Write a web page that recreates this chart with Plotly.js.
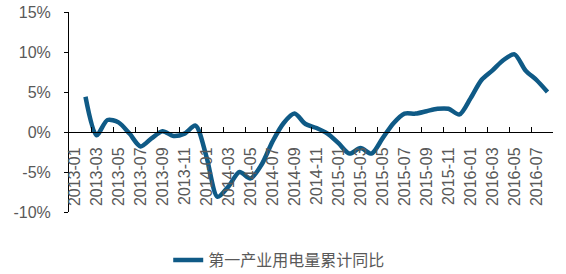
<!DOCTYPE html>
<html>
<head>
<meta charset="utf-8">
<script src="https://cdn.plot.ly/plotly-3.0.1.min.js"></script>
<style>html,body{margin:0;padding:0;background:#fff}#chart{width:566px;height:274px}</style>
</head>
<body>
<div id="chart"></div>
<script>
var categories = ["2013-01","2013-02","2013-03","2013-04","2013-05","2013-06","2013-07","2013-08","2013-09","2013-10","2013-11","2013-12",
"2014-01","2014-02","2014-03","2014-04","2014-05","2014-06","2014-07","2014-08","2014-09","2014-10","2014-11","2014-12",
"2015-01","2015-02","2015-03","2015-04","2015-05","2015-06","2015-07","2015-08","2015-09","2015-10","2015-11","2015-12",
"2016-01","2016-02","2016-03","2016-04","2016-05","2016-06","2016-07","2016-08"];
var seriesName = "第一产业用电量累计同比";
var values = [null,4.4,-0.4,1.5,1.2,-0.2,-1.8,-0.8,0.1,-0.5,-0.2,0.8,
-3.1,-8.1,-6.8,-5.0,-5.8,-4.1,-1.2,1.1,2.3,1.0,0.5,-0.2,
-1.4,-2.7,-2.0,-2.7,-0.8,1.1,2.3,2.3,2.6,2.9,2.9,2.2,
4.2,6.5,7.7,9.0,9.7,7.7,6.5,5.0];
var yTickVals = [-10,-5,0,5,10,15];
var yTickText = ["-10%","-5%","0%","5%","10%","15%"];

var labelVals = categories.filter(function(c,i){return i%2===0;});
var boundaryVals = [];
for (var i = 0; i <= categories.length; i += 2) boundaryVals.push(i - 0.5);

var txtColor = "#595959";
var font = {family: "Liberation Sans, Arial, sans-serif", size: 16, color: txtColor};

var traces = [
  {x: categories, y: values, type: "scatter", mode: "lines", name: seriesName,
   line: {color: "#0F5A86", width: 4.5, shape: "spline", smoothing: 0.8},
   hoverinfo: "skip"},
  {x: [0], y: [null], xaxis: "x2", type: "scatter", mode: "lines", showlegend: false, hoverinfo: "skip"}
];

var layout = {
  width: 566, height: 274,
  margin: {l: 69, r: 13, t: 12, b: 62, autoexpand: false},
  paper_bgcolor: "#fff", plot_bgcolor: "#fff",
  font: font,
  showlegend: true,
  legend: {orientation: "h", x: 0.205, xanchor: "left", y: -0.24, yanchor: "middle",
           font: {family: "Noto Sans CJK SC, sans-serif", size: 16, color: txtColor}},
  xaxis: {type: "category", range: [-0.5, categories.length - 0.5],
          anchor: "free", position: 0.4,
          tickmode: "array", tickvals: labelVals, ticktext: labelVals,
          tickangle: -90, ticks: "", showgrid: false, zeroline: false,
          showline: true, linecolor: "#000", linewidth: 1,
          ticklabelstandoff: 8,
          tickfont: font},
  xaxis2: {overlaying: "x", anchor: "free", position: 0.4, type: "linear",
           range: [-0.5, categories.length - 0.5],
           tickmode: "array", tickvals: boundaryVals, showticklabels: false,
           ticks: "inside", ticklen: 5, tickcolor: "#000", tickwidth: 1,
           showgrid: false, zeroline: false, showline: false},
  yaxis: {range: [-10, 15], tickmode: "array", tickvals: yTickVals, ticktext: yTickText,
          ticks: "outside", ticklen: 4, tickcolor: "#000", tickwidth: 1,
          showline: true, linecolor: "#000", linewidth: 1,
          showgrid: false, zeroline: false, ticklabelstandoff: 10,
          tickfont: font}
};

Plotly.newPlot("chart", traces, layout, {staticPlot: true, displayModeBar: false});
</script>
</body>
</html>
